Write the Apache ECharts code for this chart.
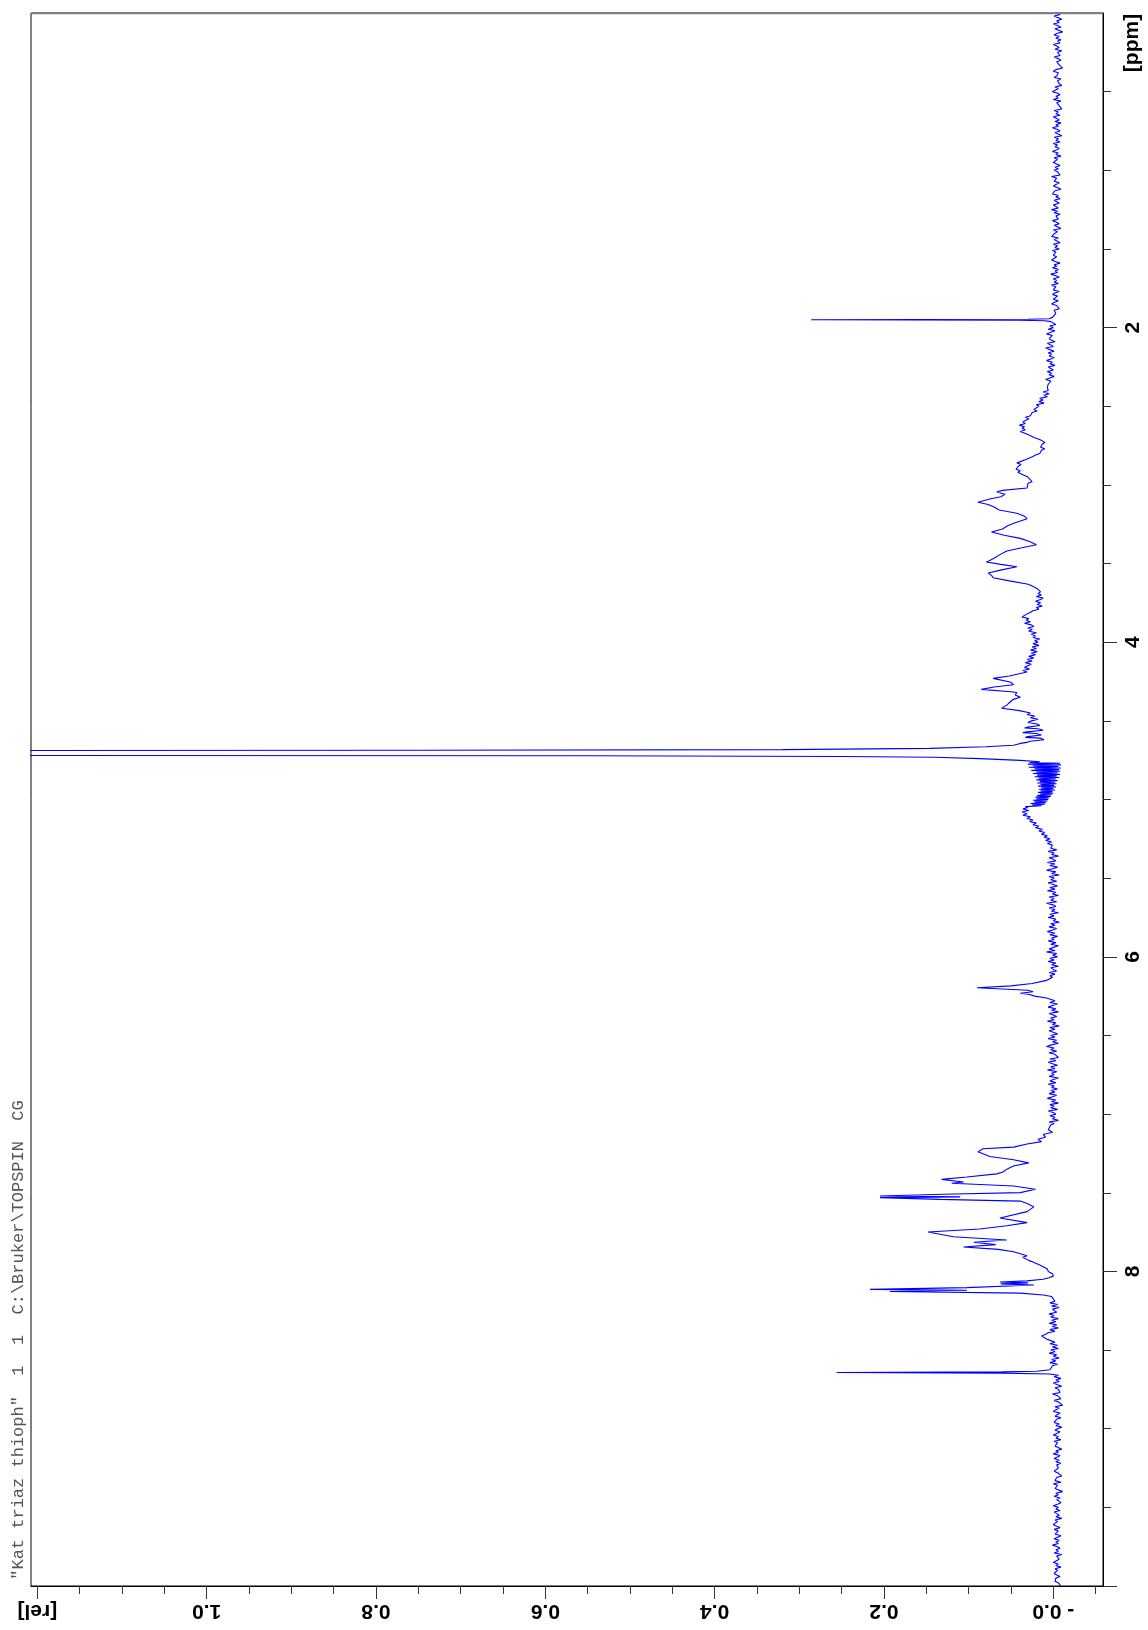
<!DOCTYPE html>
<html>
<head>
<meta charset="utf-8">
<script src="https://cdn.jsdelivr.net/npm/echarts@6/dist/echarts.min.js"></script>
<style>
html,body{margin:0;padding:0;background:#fff;}
#c{width:1148px;height:1630px;}
</style>
</head>
<body>
<div id="c"></div>
<script>
// ---------------- DATA ----------------
// Evenly sampled baseline stretches: intensities in milli-rel units
const MILLI = 0.001;
const baseA = [ // ppm 0.00 .. 1.91 (step 0.01)
  -3,-8,-1,-6,-10,-4,-7,0,-5,-9,  -2,-6,-11,-4,-1,-7,-3,-9,-5,-8,
  0,-4,-7,-2,-10,-5,-3,-8,-1,-6,  -9,-4,-2,-7,-5,-11,-3,0,-6,-8,
  -4,-1,-9,-5,-3,-7,-10,-2,-6,-4, 1,-5,-8,-3,-6,0,-9,-4,-2,-7,
  -5,-10,-1,-6,-3,-8,0,-4,-7,-2,  -9,-3,-6,1,-5,-8,-2,-4,-10,-1,
  -6,-3,-8,0,-5,-2,-7,-4,1,-6,    -3,-9,-1,-5,-7,0,-4,-8,-2,-6,
  -1,-5,-3,-8,2,-4,-6,-1,-7,-3,   0,-5,-9,-2,-4,1,-6,-3,-8,-1,
  -4,-7,0,-3,-6,2,-5,-1,-8,-3,    -2,-6,1,-4,-7,-1,-3,-9,0,-5,
  -2,-4,2,-6,-1,-3,-8,0,-5,-2,    -7,1,-3,-5,0,-4,-6,2,-2,-8,
  -1,-4,1,-6,-2,-5,3,-3,-7,0,     -4,-1,-6,2,-3,-5,0,-7,-2,1,
  -5,-3,0,-6,-1,2,-4,-2,-7,-1,    0,-3];
const baseB = [ // ppm 1.97 .. 2.38 (step 0.01)
  1,-3,4,0,6,-2,3,8,1,-1,  5,2,-2,7,3,0,9,4,-1,6,
  2,5,-1,3,8,1,4,-2,6,3,   0,7,2,5,-1,4,9,3,1,6,  4,7];
const band = [ // ppm 4.765 .. 5.045 (step 0.005)
  28,-8,30,-9,24,-6,29,-9,22,-7,26,-8,20,-5,24,-8,19,-4,22,-7,
  17,-3,20,-5,16,-2,19,-4,15,-1,18,-3,14,0,17,-2,15,1,18,0,
  16,2,19,3,21,5,20,6,24,7,22,9,27,10,25,14,33];
const baseF = [ // ppm 5.31 .. 6.13 (step 0.01)
  3,-4,6,-1,2,-6,5,0,-3,7,  -2,4,-5,1,8,-3,2,-7,5,-1,
  3,-4,6,0,-5,4,-2,7,-3,1,  -6,5,-1,3,-4,8,0,-3,5,-2,
  2,-6,4,-1,6,-3,0,-7,3,-2, 5,-4,1,7,-2,4,-5,2,-1,6,
  -3,3,-6,0,5,-2,8,-4,1,-5, 4,-1,6,-3,2,-6,3,0,-4,5,  -2,4,1];
const baseG = [ // ppm 6.28 .. 7.08 (step 0.01)
  -2,4,-5,1,6,-3,2,-6,5,0,  -4,3,-1,7,-3,1,-7,4,-2,5,
  0,-5,3,-2,6,-4,1,-6,2,8,  -1,3,-4,5,-2,0,-6,4,-3,6,
  1,-5,3,-2,7,-4,2,-1,5,-6, 0,4,-3,6,-1,2,-5,3,-2,5,
  -4,1,7,-3,2,-6,4,-1,3,-5, 6,0,-3,4,-2,1,-6,5,-1,3,  2];
const baseI = [ // ppm 8.19 .. 8.61 (step 0.01)
  -2,4,-5,2,-7,1,3,-4,5,-1,  3,-6,2,-3,5,-4,1,-6,4,-2,
  6,9,14,11,8,3,-2,4,-5,1,   -6,3,-2,5,-4,0,-7,2,-3,4,  -5,1,0];
const baseJ = [ // ppm 8.66 .. 10.00 (step 0.01)
  -6,-1,-9,-3,-7,0,-5,-10,-2,-6,  -4,-8,1,-5,-3,-9,-1,-6,-4,-11,
  -2,-7,-3,0,-8,-5,-2,-9,-4,-6,   -1,-7,-3,-10,-5,-2,-8,-4,0,-6,
  -3,-9,-1,-5,-7,-2,-4,-10,-3,-6, 0,-8,-5,-1,-7,-3,-9,-4,-2,-6,
  -8,-1,-5,-3,-10,-4,-6,-2,-9,0,  -5,-7,-2,-4,-11,-3,-6,-1,-8,-4,
  -2,-9,-5,0,-6,-3,-8,-1,-4,-7,   -3,-10,-2,-5,-7,0,-4,-8,-1,-6,
  -4,-2,-9,-5,-1,-7,-3,-6,1,-5,   -8,-3,-6,-1,-10,-4,-2,-7,-5,0,
  -6,-3,-9,-2,-5,-7,-1,-4,-8,-3,  -5,-2,-6,-4,-9];

// Feature regions: [ppm, rel]
const peak195 = [[1.920,-0.002],[1.935,0.001],[1.944,0.005],[1.947,0.030],[1.950,0.286],[1.953,0.040],[1.956,0.010],[1.962,0.003]];
const featC = [[2.40,0.006],[2.41,0.012],[2.42,0.005],[2.43,0.011],[2.44,0.007],[2.45,0.016],[2.46,0.012],[2.47,0.017],[2.48,0.011],[2.49,0.020],
  [2.50,0.017],[2.52,0.023],[2.53,0.019],[2.54,0.025],[2.56,0.027],[2.57,0.033],[2.58,0.029],[2.60,0.036],[2.61,0.033],[2.62,0.040],
  [2.63,0.034],[2.64,0.037],[2.65,0.033],[2.66,0.039],[2.68,0.030],[2.70,0.022],[2.71,0.017],[2.72,0.013],[2.73,0.010],[2.74,0.013],
  [2.76,0.015],[2.77,0.010],[2.78,0.014],[2.80,0.016],[2.81,0.021],[2.82,0.024],[2.84,0.033],[2.86,0.043],[2.87,0.038],[2.88,0.041],
  [2.90,0.044],[2.91,0.039],[2.92,0.042],[2.94,0.034],[2.95,0.030],[2.96,0.032],[2.98,0.025],[2.99,0.030],[3.00,0.028],[3.02,0.031],
  [3.035,0.060],[3.045,0.067],[3.06,0.057],[3.075,0.062],[3.09,0.075],[3.11,0.089],[3.125,0.077],[3.14,0.070],[3.16,0.064],[3.18,0.043],
  [3.20,0.034],[3.215,0.031],[3.24,0.045],[3.26,0.054],[3.28,0.060],[3.30,0.073],[3.32,0.058],[3.34,0.039],[3.36,0.028],[3.38,0.020],
  [3.40,0.037],[3.42,0.055],[3.44,0.062],[3.46,0.068],[3.48,0.075],[3.49,0.079],[3.505,0.062],[3.52,0.043],[3.54,0.061],[3.56,0.077],
  [3.575,0.073],[3.59,0.071],[3.61,0.052],[3.63,0.031],[3.64,0.026],[3.65,0.024],[3.66,0.019],[3.67,0.021],[3.68,0.015],[3.69,0.018],
  [3.70,0.014],[3.71,0.020],[3.72,0.012],[3.73,0.016],[3.74,0.021],[3.75,0.015],[3.76,0.019],[3.77,0.013],[3.78,0.020],[3.79,0.017],
  [3.80,0.024],[3.81,0.027],[3.82,0.031],[3.83,0.033],[3.84,0.037],[3.85,0.029],[3.86,0.032],[3.87,0.027],[3.88,0.034],[3.89,0.026],
  [3.90,0.023],[3.91,0.030],[3.92,0.025],[3.93,0.029],[3.94,0.020],[3.95,0.026],[3.96,0.021],[3.97,0.024],[3.98,0.016],[3.99,0.022],
  [4.00,0.018],[4.01,0.024],[4.02,0.017],[4.03,0.025],[4.04,0.020],[4.05,0.027],[4.06,0.019],[4.07,0.026],[4.08,0.021],[4.09,0.029],
  [4.10,0.023],[4.11,0.031],[4.12,0.025],[4.13,0.033],[4.14,0.026],[4.15,0.030],[4.16,0.034],[4.17,0.028],[4.18,0.036],[4.19,0.031],
  [4.20,0.030],[4.215,0.052],[4.23,0.071]];
const featD = [[4.24,0.071],[4.255,0.050],[4.27,0.047],[4.285,0.070],[4.30,0.085],[4.315,0.050],[4.32,0.043],[4.335,0.045],[4.35,0.039],[4.365,0.048],
  [4.38,0.051],[4.40,0.055],[4.42,0.061],[4.435,0.040],[4.45,0.027],[4.46,0.031],[4.47,0.022],[4.48,0.027],[4.49,0.018],[4.50,0.026],
  [4.51,0.030],[4.52,0.019],[4.53,0.016],[4.54,0.030],[4.545,0.034],[4.55,0.018],[4.56,0.012],[4.57,0.031],[4.575,0.036],[4.58,0.020],
  [4.59,0.014],[4.60,0.030],[4.605,0.033],[4.61,0.015],[4.62,0.011],[4.63,0.027],[4.635,0.030],[4.645,0.040],[4.655,0.047],[4.665,0.080]];
const mainPeak = [[4.675,0.146],[4.683,0.32],[4.687,0.75],[4.690,1.60],[4.719,1.60],[4.722,0.55],[4.727,0.25],[4.731,0.14],[4.740,0.087],[4.751,0.039],[4.760,0.016]];
const featF = [[5.05,0.030],[5.06,0.036],[5.07,0.029],[5.08,0.037],[5.09,0.031],[5.10,0.036],[5.11,0.027],[5.12,0.031],[5.13,0.024],[5.14,0.028],
  [5.15,0.020],[5.16,0.024],[5.17,0.017],[5.18,0.021],[5.19,0.013],[5.20,0.017],[5.21,0.010],[5.22,0.014],[5.23,0.007],[5.24,0.011],
  [5.25,0.004],[5.26,0.009],[5.27,0.002],[5.28,0.007],[5.29,0.001]];
const peak62 = [[6.15,0.008],[6.17,0.025],[6.185,0.050],[6.197,0.090],[6.205,0.060],[6.213,0.030],[6.222,0.024],[6.232,0.039],[6.240,0.028],[6.250,0.022],[6.262,0.008]];
const featH = [[7.10,0.006],[7.115,0.001],[7.13,0.012],[7.145,0.009],[7.16,0.018],[7.175,0.014],[7.19,0.031],[7.21,0.047],[7.22,0.083],[7.24,0.089],[7.27,0.075],[7.29,0.047],[7.31,0.029],
  [7.33,0.047],[7.35,0.055],[7.37,0.060],[7.38,0.067],[7.40,0.102],[7.415,0.132],[7.432,0.106],[7.440,0.120],[7.457,0.047],[7.478,0.021],
  [7.499,0.039],[7.510,0.130],[7.521,0.2047],[7.526,0.110],[7.531,0.2047],[7.542,0.134],[7.553,0.039],[7.57,0.030],[7.59,0.023],[7.62,0.031],
  [7.66,0.063],[7.69,0.031],[7.71,0.055],[7.73,0.087],[7.75,0.148],[7.78,0.118],[7.80,0.055],[7.815,0.094],[7.83,0.068],[7.845,0.106],
  [7.86,0.065],[7.875,0.047],[7.90,0.031],[7.91,0.036],[7.93,0.029],[7.94,0.024],[7.95,0.020],[7.96,0.016],[7.97,0.012],[7.985,0.007],[8.00,0.006],[8.015,0.001],[8.03,0.000],[8.04,0.005],[8.05,0.012],[8.06,0.031],
  [8.067,0.063],[8.073,0.030],[8.079,0.062],[8.086,0.023],[8.103,0.102],[8.114,0.2165],[8.120,0.102],[8.128,0.193],[8.138,0.039],[8.15,0.012],[8.16,0.002],[8.17,0.004]];
const peak864 = [[8.625,0.004],[8.635,0.020],[8.639,0.060],[8.643,0.256],[8.647,0.060],[8.652,0.004]];

// Axes / tick labels
const relMajor = [0, 0.2, 0.4, 0.6, 0.8, 1.0, 1.2];
const relLabels = ['- 0.0', '0.2', '0.4', '0.6', '0.8', '1.0', '[rel]'];
const ppmMajor = [2, 4, 6, 8, 10];
const ppmLabeled = [2, 4, 6, 8];
const titleText = '"Kat triaz thioph"  1  1  C:\\Bruker\\TOPSPIN  CG';
const ppmUnit = '[ppm]';

// ---------------- BUILD ----------------
function evenly(start, step, milliVals) {
  return milliVals.map((m, i) => [m * MILLI, Math.round((start + i * step) * 10000) / 10000]);
}
function pairs(list) { return list.map(p => [p[1], p[0]]); }

const spectrum = [].concat(
  evenly(0.00, 0.01, baseA), pairs(peak195), evenly(1.97, 0.01, baseB),
  pairs(featC), pairs(featD), pairs(mainPeak), evenly(4.765, 0.005, band),
  pairs(featF), evenly(5.31, 0.01, baseF), pairs(peak62), evenly(6.28, 0.01, baseG),
  pairs(featH), evenly(8.19, 0.01, baseI), pairs(peak864), evenly(8.66, 0.01, baseJ)
);

const labelFont = { fontFamily: 'Liberation Sans', fontWeight: 'bold', fontSize: 21, color: '#000' };

const chart = echarts.init(document.getElementById('c'), null, { renderer: 'canvas' });
chart.setOption({
  animation: false,
  backgroundColor: '#fff',
  grid: { left: 31, right: 45, top: 13, bottom: 44, show: true, borderColor: '#000', borderWidth: 1, containLabel: false },
  xAxis: {
    type: 'value', min: -0.0587, max: 1.2075, inverse: true, position: 'bottom', splitNumber: 6,
    axisLine: { show: true, onZero: false, lineStyle: { color: '#000', width: 1 } },
    axisTick: { show: true, customValues: relMajor, length: 13, lineStyle: { color: '#333', width: 1 } },
    minorTick: { show: true, splitNumber: 4, length: 8, lineStyle: { color: '#333', width: 1 } },
    axisLabel: Object.assign({
      customValues: relMajor, rotate: 180, margin: 14,
      formatter: v => { const i = relMajor.findIndex(m => Math.abs(m - v) < 1e-6); return i >= 0 ? relLabels[i] : ''; }
    }, labelFont),
    splitLine: { show: false }, minorSplitLine: { show: false }
  },
  yAxis: {
    type: 'value', min: 0, max: 10, interval: 2, inverse: true, position: 'right',
    axisLine: { show: true, onZero: false, lineStyle: { color: '#000', width: 1 } },
    axisTick: { show: true, customValues: ppmMajor, length: 14, lineStyle: { color: '#333', width: 1 } },
    minorTick: { show: true, splitNumber: 4, length: 8, lineStyle: { color: '#333', width: 1 } },
    axisLabel: Object.assign({ customValues: ppmLabeled, rotate: 90, margin: 20, formatter: v => String(Math.round(v)) }, labelFont),
    splitLine: { show: false }, minorSplitLine: { show: false }
  },
  series: [{
    type: 'line', data: spectrum, showSymbol: false, symbol: 'none', clip: true, silent: true,
    lineStyle: { color: '#0000ff', width: 1.1 }
  }],
  graphic: [
    { type: 'line', shape: { x1: 31, y1: 13.5, x2: 1103, y2: 13.5 }, style: { stroke: '#808080', lineWidth: 1.5 }, z: 100 },
    { type: 'text', x: 18, y: 1340, rotation: Math.PI / 2,
      style: { text: titleText, font: '17px "Liberation Mono"', fill: '#555', align: 'center', verticalAlign: 'middle', textAlign: 'center', textVerticalAlign: 'middle' } },
    { type: 'text', x: 1132, y: 43, rotation: Math.PI / 2,
      style: { text: ppmUnit, font: 'bold 21px "Liberation Sans"', fill: '#000', align: 'center', verticalAlign: 'middle', textAlign: 'center', textVerticalAlign: 'middle' } }
  ]
});
</script>
</body>
</html>
